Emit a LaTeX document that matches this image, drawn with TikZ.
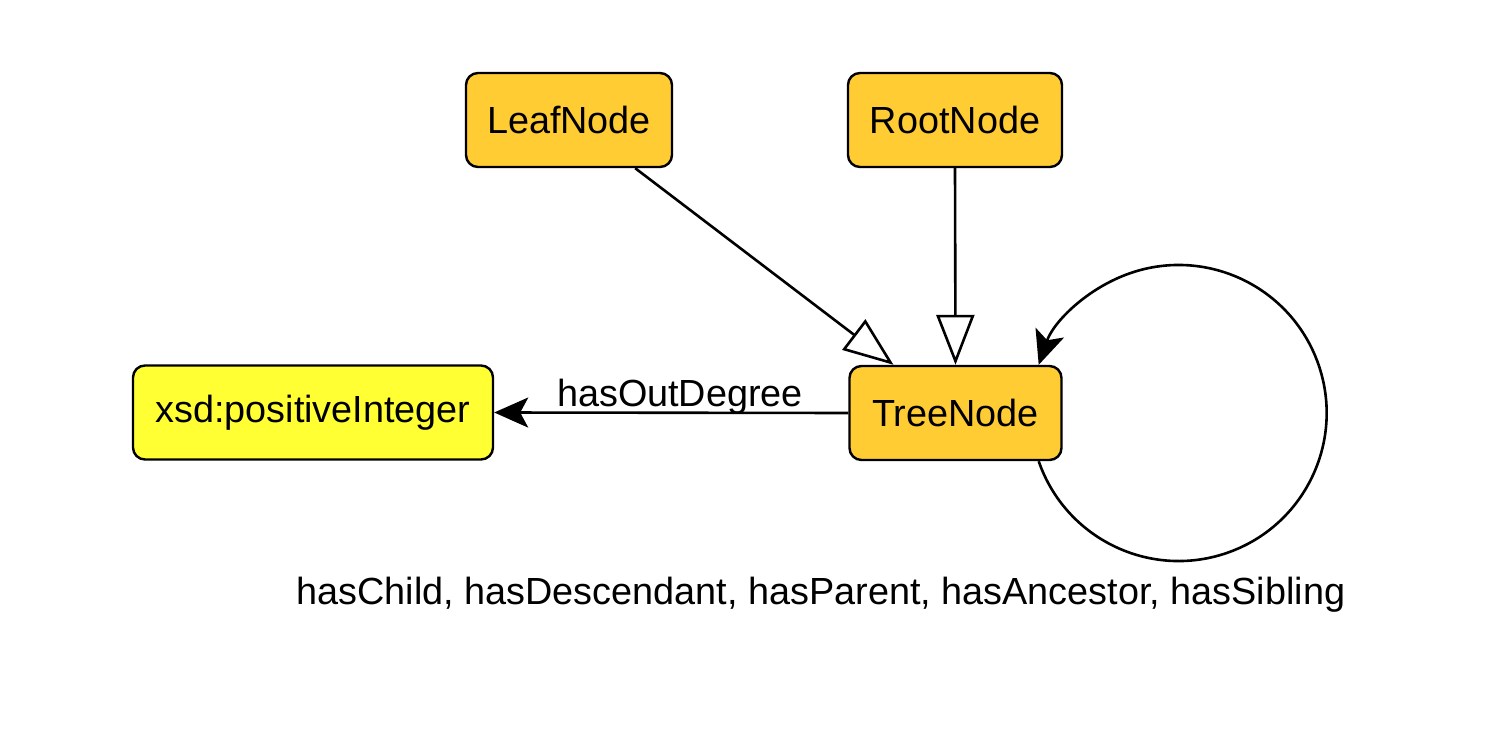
\documentclass[tikz,border=0pt]{standalone}
\usepackage{fontspec}
\setmainfont{Liberation Sans}
\usetikzlibrary{arrows.meta}
\definecolor{nodeorange}{HTML}{FFCC33}
\definecolor{nodeyellow}{HTML}{FFFF33}
\begin{document}
\begin{tikzpicture}[x=0.5pt,y=-0.5pt,
  box/.style={draw=black, line width=1.2pt, rounded corners=6pt, inner sep=0pt,
    minimum height=47pt, font=\fontsize{18.9}{22}\selectfont},
  cls/.style={box, fill=nodeorange},
  dt/.style={box, fill=nodeyellow},
  isa/.style={line width=1.3pt, -{Triangle[open, length=25pt, width=19pt, line width=1.3pt]}},
  prop/.style={line width=1.3pt, -{Stealth[length=17pt, width=15pt, inset=4pt]}},
  lbl/.style={font=\fontsize{18.9}{22}\selectfont, inner sep=0pt}]
\useasboundingbox (0,0) rectangle (1506,732);
\node[cls, minimum width=103pt] (leaf) at (569,120) {LeafNode};
\node[cls, minimum width=107pt] (root) at (955,120) {RootNode};
\node[cls, minimum width=106pt] (tree) at (955.5,413) {TreeNode};
\node[dt, minimum width=180pt] (xsd) at (313,412.5) {xsd:positiveInteger};
\draw[isa] ([xshift=-19pt]leaf.south east) -- ([xshift=-31pt]tree.north);
\draw[isa] (root.south) -- (tree.north);
\draw[prop] (tree.west) -- (xsd.east);
\node[lbl] (lblout) at (680,397) {hasOutDegree};
\draw[prop] ([xshift=-12pt]tree.south east) arc[start angle=199, end angle=521, radius=74pt];
\node[lbl, anchor=base] (lblloop) at (821,605) {hasChild, hasDescendant, hasParent, hasAncestor, hasSibling};
\end{tikzpicture}
\end{document}
